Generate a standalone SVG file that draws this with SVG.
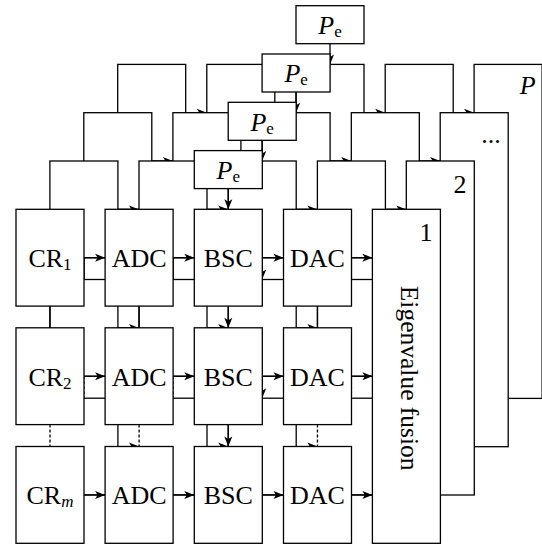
<svg xmlns="http://www.w3.org/2000/svg" xmlns:xlink="http://www.w3.org/1999/xlink" width="542" height="548" viewBox="0 0 542 548">
<style>
.box{fill:#fff;stroke:#000;stroke-width:1.3}
.w{fill:none;stroke:#000;stroke-width:1.3}
.dbg{fill:none;stroke:#fff;stroke-width:2.6}
.d{fill:none;stroke:#000;stroke-width:1.3;stroke-dasharray:3 2}
.t{font-family:"Liberation Serif","Times New Roman",serif;font-size:26px;fill:#000}
.it{font-style:italic}
</style>
<defs>
<marker id="ah" viewBox="-11 -5 12 10" refX="0" refY="0" markerWidth="12" markerHeight="10" markerUnits="userSpaceOnUse" orient="auto">
<path d="M0,0 L-10,-4 L-7.5,0 L-10,4 Z" fill="#000"/>
</marker>
<g id="shapes">
<rect class="box" x="16" y="209.3" width="68" height="96.8"/>
<rect class="box" x="105.1" y="209.3" width="68" height="96.8"/>
<rect class="box" x="194.3" y="209.3" width="68" height="96.8"/>
<rect class="box" x="283.5" y="209.3" width="68" height="96.8"/>
<rect class="box" x="16" y="327.8" width="68" height="96.8"/>
<rect class="box" x="105.1" y="327.8" width="68" height="96.8"/>
<rect class="box" x="194.3" y="327.8" width="68" height="96.8"/>
<rect class="box" x="283.5" y="327.8" width="68" height="96.8"/>
<rect class="box" x="16" y="446.5" width="68" height="96.8"/>
<rect class="box" x="105.1" y="446.5" width="68" height="96.8"/>
<rect class="box" x="194.3" y="446.5" width="68" height="96.8"/>
<rect class="box" x="283.5" y="446.5" width="68" height="96.8"/>
<rect class="box" x="372.4" y="209.3" width="68" height="334"/>
<rect class="box" x="194.3" y="150.6" width="68" height="38"/>
</g>
</defs>

<!-- back layer P -->
<g id="layer-P" transform="translate(101.7,-144.9)">
<use href="#shapes"/>
<use href="#connectors"/>
<text class="t" x="228.3" y="179" text-anchor="middle"><tspan class="it">P</tspan><tspan font-size="17" dy="3">e</tspan></text>
<text class="t it" x="426" y="239.4" text-anchor="middle">P</text>
</g>
<!-- back layer ... -->
<g id="layer-dots" transform="translate(67.8,-96.6)">
<use href="#shapes"/>
<use href="#connectors"/>
<text class="t" x="228.3" y="179" text-anchor="middle"><tspan class="it">P</tspan><tspan font-size="17" dy="3">e</tspan></text>
<text class="t" x="423.2" y="239.5" text-anchor="middle">...</text>
</g>
<!-- back layer 2 -->
<g id="layer-2" transform="translate(33.9,-48.3)">
<use href="#shapes"/>
<use href="#connectors"/>
<text class="t" x="228.3" y="179" text-anchor="middle"><tspan class="it">P</tspan><tspan font-size="17" dy="3">e</tspan></text>
<text class="t" x="426" y="240.9" text-anchor="middle">2</text>
</g>

<!-- front layer 1 -->
<g id="layer-1">
<g id="cr1"><rect class="box" x="16" y="209.3" width="68" height="96.8"/><text class="t" x="50" y="267" text-anchor="middle">CR<tspan font-size="17" dy="3">1</tspan></text></g>
<g id="adc1"><rect class="box" x="105.1" y="209.3" width="68" height="96.8"/><text class="t" x="139.1" y="267" text-anchor="middle">ADC</text></g>
<g id="bsc1"><rect class="box" x="194.3" y="209.3" width="68" height="96.8"/><text class="t" x="228.3" y="267" text-anchor="middle">BSC</text></g>
<g id="dac1"><rect class="box" x="283.5" y="209.3" width="68" height="96.8"/><text class="t" x="317.5" y="267" text-anchor="middle">DAC</text></g>
<g id="cr2"><rect class="box" x="16" y="327.8" width="68" height="96.8"/><text class="t" x="50" y="385.5" text-anchor="middle">CR<tspan font-size="17" dy="3">2</tspan></text></g>
<g id="adc2"><rect class="box" x="105.1" y="327.8" width="68" height="96.8"/><text class="t" x="139.1" y="385.5" text-anchor="middle">ADC</text></g>
<g id="bsc2"><rect class="box" x="194.3" y="327.8" width="68" height="96.8"/><text class="t" x="228.3" y="385.5" text-anchor="middle">BSC</text></g>
<g id="dac2"><rect class="box" x="283.5" y="327.8" width="68" height="96.8"/><text class="t" x="317.5" y="385.5" text-anchor="middle">DAC</text></g>
<g id="crm"><rect class="box" x="16" y="446.5" width="68" height="96.8"/><text class="t" x="50" y="504.2" text-anchor="middle">CR<tspan class="it" font-size="17" dy="3">m</tspan></text></g>
<g id="adcm"><rect class="box" x="105.1" y="446.5" width="68" height="96.8"/><text class="t" x="139.1" y="504.2" text-anchor="middle">ADC</text></g>
<g id="bscm"><rect class="box" x="194.3" y="446.5" width="68" height="96.8"/><text class="t" x="228.3" y="504.2" text-anchor="middle">BSC</text></g>
<g id="dacm"><rect class="box" x="283.5" y="446.5" width="68" height="96.8"/><text class="t" x="317.5" y="504.2" text-anchor="middle">DAC</text></g>
<g id="fusion"><rect class="box" x="372.4" y="209.3" width="68" height="334"/>
<text class="t" x="426" y="240.9" text-anchor="middle">1</text>
<text class="t" style="font-size:25.5px" transform="translate(401.2,378.2) rotate(90)" x="0" y="0" text-anchor="middle">Eigenvalue fusion</text></g>
<g id="pe"><rect class="box" x="194.3" y="150.6" width="68" height="38"/><text class="t" x="228.3" y="179" text-anchor="middle"><tspan class="it">P</tspan><tspan font-size="17" dy="3">e</tspan></text></g>

<g id="connectors">
<path class="w" marker-end="url(#ah)" d="M84,257.7 H105.1"/>
<path class="w" marker-end="url(#ah)" d="M173.1,257.7 H194.3"/>
<path class="w" marker-end="url(#ah)" d="M262.3,257.7 H283.5"/>
<path class="w" marker-end="url(#ah)" d="M351.5,257.7 H372.4"/>
<path class="w" marker-end="url(#ah)" d="M84,376.2 H105.1"/>
<path class="w" marker-end="url(#ah)" d="M173.1,376.2 H194.3"/>
<path class="w" marker-end="url(#ah)" d="M262.3,376.2 H283.5"/>
<path class="w" marker-end="url(#ah)" d="M351.5,376.2 H372.4"/>
<path class="w" marker-end="url(#ah)" d="M84,494.9 H105.1"/>
<path class="w" marker-end="url(#ah)" d="M173.1,494.9 H194.3"/>
<path class="w" marker-end="url(#ah)" d="M262.3,494.9 H283.5"/>
<path class="w" marker-end="url(#ah)" d="M351.5,494.9 H372.4"/>
<path class="w" marker-end="url(#ah)" d="M228.3,188.6 V209.3"/>
<path class="w" marker-end="url(#ah)" d="M228.3,306.1 V327.8"/>
<path class="w" marker-end="url(#ah)" d="M228.3,424.6 V446.5"/>
<path class="w" d="M50,306.1 V327.8 M139.1,306.1 V327.8 M317.5,306.1 V327.8"/>
<path class="dbg" d="M50,425.3 V445.8 M139.1,425.3 V445.8 M317.5,425.3 V445.8"/>
<path class="d" d="M50,424.6 V446.5 M139.1,424.6 V446.5 M317.5,424.6 V446.5"/>
</g>
</g>
</svg>
